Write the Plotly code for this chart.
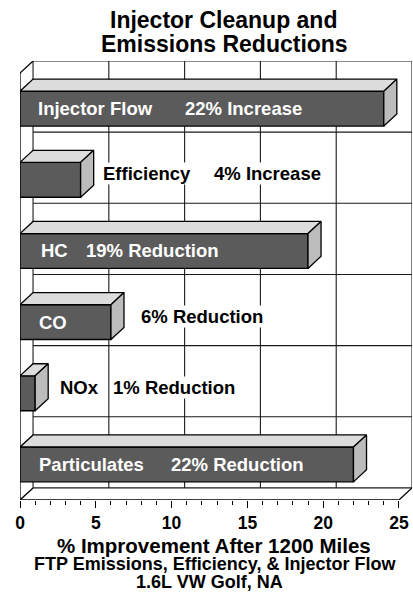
import plotly.graph_objects as go

# ---------------- data ----------------
categories = ["Injector Flow", "Efficiency", "HC", "CO", "NOx", "Particulates"]
values = [24, 4, 19, 6, 1, 22]
change_labels = ["22% Increase", "4% Increase", "19% Reduction",
                 "6% Reduction", "1% Reduction", "22% Reduction"]
name_x = [1.12, 5.4, 1.3, 1.2, 2.6, 1.2]        # label anchor (x units)
change_x = [10.8, 12.7, 4.3, 7.9, 6.05, 9.9]
tick_vals = [0, 5, 10, 15, 20, 25]

# ---------------- style / geometry ----------------
FONT = "Liberation Sans, Arial, sans-serif"
DX, DY = 0.86, 0.17          # 3-D depth offset in axis units
BAR_W = 0.49
FRONT, TOP, SIDE = "#5b5b5b", "#dcdcdc", "#bcbcbc"
W, H = 413, 600
ML, MR, MT, MB = 20, 1, 61, 100
XMAX = tick_vals[-1]
NCAT = len(categories)
y_pos = [NCAT - 0.5 - i for i in range(NCAT)]

def py_to_paper(py):
    return (H - MB - py) / (H - MT - MB)

def px_to_paper(px):
    return (px - ML) / (W - ML - MR)

fig = go.Figure()

# front faces
fig.add_trace(go.Bar(
    x=values, y=y_pos, orientation="h", width=BAR_W, base=0,
    marker=dict(color=FRONT, line=dict(color="black", width=1.4)),
    hoverinfo="skip", showlegend=False))

# top and side faces
for v, yc in zip(values, y_pos):
    yt, yb = yc + BAR_W / 2, yc - BAR_W / 2
    fig.add_trace(go.Scatter(
        x=[0, v, v + DX, DX, 0], y=[yt, yt, yt + DY, yt + DY, yt],
        fill="toself", fillcolor=TOP, mode="lines",
        line=dict(color="black", width=1.3), hoverinfo="skip", showlegend=False))
    fig.add_trace(go.Scatter(
        x=[v, v + DX, v + DX, v, v], y=[yb, yb + DY, yt + DY, yt, yb],
        fill="toself", fillcolor=SIDE, mode="lines",
        line=dict(color="black", width=1.3), hoverinfo="skip", showlegend=False))

# box / gridlines (below traces)
shapes = []
gl = dict(color="#1a1a1a", width=1.1)
for t in tick_vals:
    shapes.append(dict(type="line", xref="x", yref="y", layer="below",
                       x0=t + DX, x1=t + DX, y0=DY, y1=NCAT + DY, line=gl))
for k in range(NCAT + 1):
    shapes.append(dict(type="line", xref="x", yref="y", layer="below",
                       x0=DX, x1=XMAX + DX, y0=k + DY, y1=k + DY, line=gl))
ax = dict(color="black", width=1.3)
shapes += [
    dict(type="line", xref="x", yref="y", layer="below", x0=0, x1=0, y0=0, y1=NCAT, line=ax),
    dict(type="line", xref="x", yref="y", layer="below", x0=0, x1=DX, y0=NCAT, y1=NCAT + DY, line=ax),
    dict(type="line", xref="x", yref="y", layer="below", x0=0, x1=DX, y0=0, y1=DY, line=ax),
    dict(type="line", xref="x", yref="y", layer="below", x0=0, x1=XMAX, y0=0, y1=0, line=ax),
    dict(type="line", xref="x", yref="y", layer="below", x0=XMAX, x1=XMAX + DX, y0=0, y1=DY, line=ax),
]

# bar labels
annotations = []
for v, yc, nm, nx, ch, cx in zip(values, y_pos, categories, name_x, change_labels, change_x):
    for txt, x in ((nm, nx), (ch, cx)):
        inside = x < v
        annotations.append(dict(
            x=x, y=yc if inside else yc + DY / 2, xref="x", yref="y",
            xanchor="left", yanchor="middle", showarrow=False,
            text=f"<b>{txt}</b>",
            font=dict(family=FONT, size=18.5, color="white" if inside else "black"),
            bgcolor=None if inside else "white", borderpad=0))

# titles
for txt, px, py, size in (("Injector Cleanup and", 223, 20, 23),
                          ("Emissions Reductions", 224, 44, 23),
                          ("% Improvement After 1200 Miles", 214, 545, 20.5),
                          ("FTP Emissions, Efficiency, & Injector Flow", 215, 564, 18),
                          ("1.6L VW Golf, NA", 209, 582, 18)):
    annotations.append(dict(
        x=px_to_paper(px), y=py_to_paper(py), xref="paper", yref="paper",
        xanchor="center", yanchor="middle", showarrow=False,
        text=f"<b>{txt}</b>", font=dict(family=FONT, size=size, color="black")))

fig.update_layout(
    width=W, height=H, margin=dict(l=ML, r=MR, t=MT, b=MB, autoexpand=False),
    paper_bgcolor="white", plot_bgcolor="white",
    shapes=shapes, annotations=annotations, showlegend=False,
    xaxis=dict(range=[0, XMAX + DX], tickvals=tick_vals, showgrid=False,
               zeroline=False, showline=False, ticks="outside", ticklen=7,
               tickwidth=1.2, tickcolor="black", automargin=False,
               minor=dict(dtick=1, ticks="outside", ticklen=4, tickcolor="black", showgrid=False),
               tickfont=dict(family=FONT, size=17.5, color="black", weight="bold"),
               fixedrange=True),
    yaxis=dict(range=[0, NCAT + DY], showgrid=False, zeroline=False, automargin=False,
               showline=False, showticklabels=False, ticks="", fixedrange=True),
)

fig.write_html("out.html", config={"displayModeBar": False},
               post_script="document.body.style.margin='0';document.body.style.overflow='hidden';")
